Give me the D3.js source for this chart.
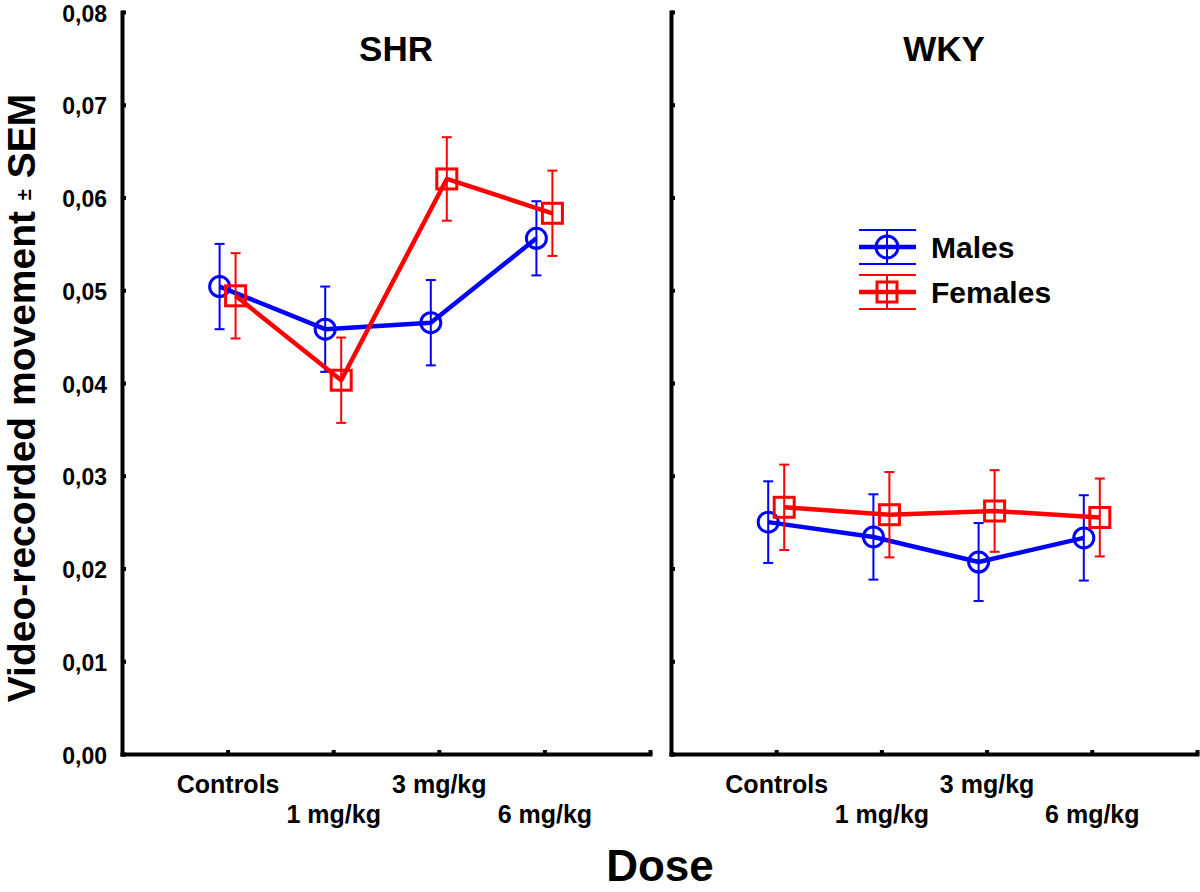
<!DOCTYPE html>
<html>
<head>
<meta charset="utf-8">
<script src="https://cdn.jsdelivr.net/npm/d3@7"></script>
<style>
  html, body { margin: 0; padding: 0; background: #fff; }
  svg { display: block; font-family: "Liberation Sans", Arial, Helvetica, sans-serif; font-weight: bold; }
</style>
</head>
<body>
<svg id="chart" width="1200" height="892"></svg>
<script>
// ---- data ----
const doses = ["Controls", "1 mg/kg", "3 mg/kg", "6 mg/kg"];
const panels = ["SHR", "WKY"];
const seriesNames = ["Males", "Females"];
const yTicks = [0, 0.01, 0.02, 0.03, 0.04, 0.05, 0.06, 0.07, 0.08];

const shrMales = [0.0504, 0.0458, 0.0465, 0.0556];
const shrMalesSem = [0.0046, 0.0046, 0.0046, 0.0040];
const shrFemales = [0.0494, 0.0403, 0.0620, 0.0583];
const shrFemalesSem = [0.0046, 0.0046, 0.0045, 0.0046];

const wkyMales = [0.0250, 0.0234, 0.0207, 0.0233];
const wkyMalesSem = [0.0044, 0.0046, 0.0042, 0.0046];
const wkyFemales = [0.0266, 0.0258, 0.0262, 0.0255];
const wkyFemalesSem = [0.0046, 0.0046, 0.0044, 0.0042];

const colors = { Males: "#0000ff", Females: "#ff0000" };

// ---- layout ----
const svg = d3.select("#chart");
const yTop = 12, yBottom = 754;
const y = d3.scaleLinear().domain([0, 0.08]).range([yBottom, yTop]);
const panelRanges = [[122, 650], [671, 1197]];
const offsets = { Males: -8, Females: 8 };

const panelData = [
  { name: panels[0], Males: shrMales, MalesSem: shrMalesSem, Females: shrFemales, FemalesSem: shrFemalesSem },
  { name: panels[1], Males: wkyMales, MalesSem: wkyMalesSem, Females: wkyFemales, FemalesSem: wkyFemalesSem }
];

const fmt = d => d3.format(".2f")(d).replace(".", ",");

panelData.forEach((p, pi) => {
  const x = d3.scaleLinear().domain([0, 5]).range(panelRanges[pi]);
  const g = svg.append("g");

  // y axis
  const yAxis = d3.axisLeft(y).tickValues(yTicks).tickSizeInner(-4).tickSizeOuter(0).tickPadding(15)
    .tickFormat(pi === 0 ? fmt : () => "");
  const ya = g.append("g").attr("transform", `translate(${panelRanges[pi][0]},0)`).call(yAxis);
  ya.select(".domain").attr("stroke", "#000").attr("stroke-width", 4).attr("stroke-linecap", "square");
  ya.selectAll(".tick line").attr("stroke", "#000").attr("stroke-width", 4);
  ya.selectAll(".tick text").attr("font-size", 23).attr("font-weight", "bold").attr("fill", "#000")
    .attr("font-family", "Liberation Sans, Arial, sans-serif")
    .attr("dy", "0.4em");

  // x axis
  const xAxis = d3.axisBottom(x).tickValues([1, 2, 3, 4, 5]).tickSizeInner(-4).tickSizeOuter(0).tickPadding(0)
    .tickFormat(d => d <= 4 ? doses[d - 1] : "");
  const xa = g.append("g").attr("transform", `translate(0,${yBottom})`).call(xAxis);
  xa.select(".domain").attr("stroke", "#000").attr("stroke-width", 4).attr("stroke-linecap", "square");
  xa.selectAll(".tick line").attr("stroke", "#000").attr("stroke-width", 4);
  xa.selectAll(".tick text").attr("font-size", 25).attr("font-weight", "bold").attr("fill", "#000")
    .attr("font-family", "Liberation Sans, Arial, sans-serif")
    .attr("dy", null)
    .attr("y", (d) => (d % 2 === 1) ? 39 : 69);

  // panel title
  g.append("text").attr("x", (panelRanges[pi][0] + panelRanges[pi][1]) / 2 + 10).attr("y", 61)
    .attr("text-anchor", "middle").attr("font-size", 35).text(p.name);

  // series
  seriesNames.forEach(s => {
    const vals = p[s], sems = p[s + "Sem"];
    const pts = vals.map((v, i) => ({ cx: x(i + 1) + offsets[s], v, sem: sems[i] }));
    const sg = g.append("g");
    // error bars
    pts.forEach(d => {
      sg.append("line").attr("x1", d.cx).attr("x2", d.cx).attr("y1", y(d.v - d.sem)).attr("y2", y(d.v + d.sem))
        .attr("stroke", colors[s]).attr("stroke-width", 2);
      [d.v - d.sem, d.v + d.sem].forEach(e => {
        sg.append("line").attr("x1", d.cx - 5).attr("x2", d.cx + 5).attr("y1", y(e)).attr("y2", y(e))
          .attr("stroke", colors[s]).attr("stroke-width", 2);
      });
    });
    // line
    sg.append("path").datum(pts)
      .attr("d", d3.line().x(d => d.cx).y(d => y(d.v)))
      .attr("fill", "none").attr("stroke", colors[s]).attr("stroke-width", 4.5).attr("stroke-linejoin", "round");
    // markers
    if (s === "Males") {
      sg.selectAll("circle").data(pts).join("circle")
        .attr("cx", d => d.cx).attr("cy", d => y(d.v)).attr("r", 10)
        .attr("fill", "none").attr("stroke", colors[s]).attr("stroke-width", 3);
    } else {
      sg.selectAll("rect").data(pts).join("rect")
        .attr("x", d => d.cx - 10).attr("y", d => y(d.v) - 10).attr("width", 20).attr("height", 20)
        .attr("fill", "none").attr("stroke", colors[s]).attr("stroke-width", 3);
    }
  });
});

// legend
const legend = svg.append("g").attr("transform", "translate(859,247)");
seriesNames.forEach((s, i) => {
  const lg = legend.append("g").attr("transform", `translate(0,${i * 45})`);
  const c = colors[s];
  lg.append("line").attr("x1", 0).attr("x2", 57).attr("y1", -17).attr("y2", -17).attr("stroke", c).attr("stroke-width", 2);
  lg.append("line").attr("x1", 0).attr("x2", 57).attr("y1", 17).attr("y2", 17).attr("stroke", c).attr("stroke-width", 2);
  lg.append("line").attr("x1", 28).attr("x2", 28).attr("y1", -17).attr("y2", 17).attr("stroke", c).attr("stroke-width", 2);
  lg.append("line").attr("x1", 0).attr("x2", 57).attr("y1", 0).attr("y2", 0).attr("stroke", c).attr("stroke-width", 4.5);
  if (s === "Males") {
    lg.append("circle").attr("cx", 28).attr("cy", 0).attr("r", 11).attr("fill", "none").attr("stroke", c).attr("stroke-width", 3);
  } else {
    lg.append("rect").attr("x", 18).attr("y", -10).attr("width", 20).attr("height", 20).attr("fill", "none").attr("stroke", c).attr("stroke-width", 3);
  }
  lg.append("text").attr("x", 72).attr("y", 11).attr("font-size", 30).text(s);
});

// axis titles
svg.append("text").attr("x", 660).attr("y", 881).attr("text-anchor", "middle").attr("font-size", 44).text("Dose");

const yt = svg.append("text").attr("transform", "translate(35,398) rotate(-90)").attr("text-anchor", "middle").attr("font-size", 39);
yt.append("tspan").text("Video-recorded movement ");
yt.append("tspan").attr("font-size", 20).attr("dy", -4).text("±");
yt.append("tspan").attr("dy", 4).text(" SEM");
</script>
</body>
</html>
